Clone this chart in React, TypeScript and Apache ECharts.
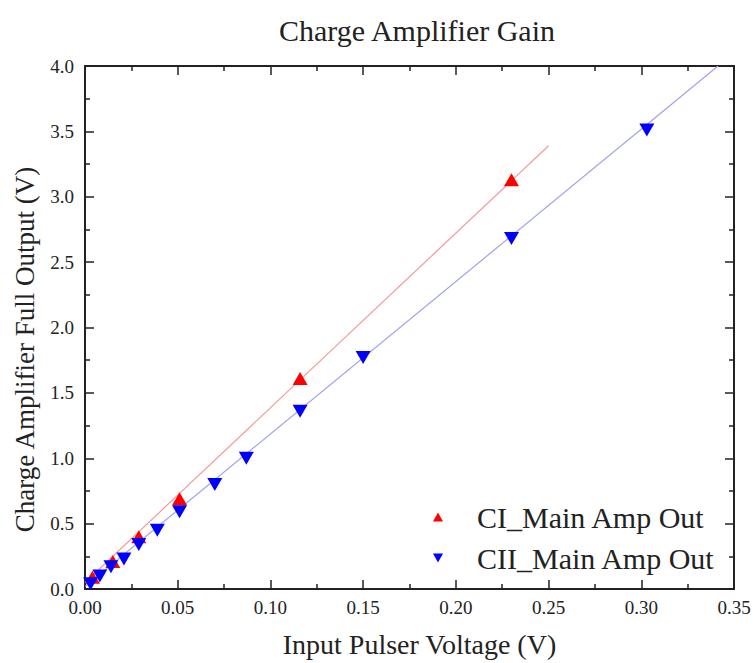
import React, { useEffect, useRef } from "react";
import * as echarts from "echarts";

const ciX = [0.004, 0.015, 0.029, 0.051, 0.116, 0.23];
const ciY = [0.09, 0.21, 0.4, 0.69, 1.61, 3.13];
const ciiX = [0.003, 0.008, 0.014, 0.021, 0.029, 0.039, 0.051, 0.07, 0.087, 0.116, 0.15, 0.23, 0.303];
const ciiY = [0.04, 0.1, 0.17, 0.23, 0.34, 0.45, 0.59, 0.8, 1.0, 1.36, 1.77, 2.68, 3.51];
const ciFitX = [0, 0.25];
const ciFitY = [0.05, 3.39];
const ciiFitX = [0, 0.3414];
const ciiFitY = [0.02, 4.0];
const seriesNames = ["CI_Main Amp Out", "CII_Main Amp Out"];
const titleText = "Charge Amplifier Gain";
const xName = "Input Pulser Voltage (V)";
const yName = "Charge Amplifier Full Output (V)";

const FONT = "'Liberation Serif', 'Times New Roman', serif";

const zip = (xs: number[], ys: number[]) => xs.map((x, i) => [x, ys[i]]);

export default function App() {
  const ref = useRef<HTMLDivElement>(null);
  useEffect(() => {
    if (!ref.current) return;
    const chart = echarts.init(ref.current, undefined, { renderer: "svg" });
    const axisLine = { show: true, onZero: false, lineStyle: { color: "#222", width: 2 } };
    const axisTick = { show: true, inside: true, length: 9, lineStyle: { color: "#222", width: 1.5 } };
    const minorTick = { show: true, splitNumber: 2, length: 5, lineStyle: { color: "#222", width: 1.5 } };
    const xBase = { type: "value", min: 0, max: 0.35, interval: 0.05, splitLine: { show: false }, axisLine, axisTick, minorTick };
    const yBase = { type: "value", min: 0, max: 4, interval: 0.5, splitLine: { show: false }, axisLine, axisTick, minorTick };
    chart.setOption({
      animation: false,
      backgroundColor: "#fff",
      title: {
        text: titleText,
        left: 412,
        textAlign: "center",
        top: 10,
        textStyle: { fontFamily: FONT, fontSize: 30, fontWeight: "normal", color: "#222" },
      },
      grid: { left: 85, right: 19, top: 66, bottom: 74, outerBoundsMode: "none" },
      legend: {
        orient: "vertical",
        left: 428,
        top: 497,
        itemWidth: 10,
        itemHeight: 9,
        itemGap: 11,
        data: [
          { name: seriesNames[0], icon: "path://M5,0L10,9L0,9Z" },
          { name: seriesNames[1], icon: "path://M0,0L10,0L5,9Z" },
        ],
        textStyle: { fontFamily: FONT, fontSize: 30, color: "#222", padding: [0, 0, 0, 29] },
      },
      xAxis: [
        {
          ...xBase,
          position: "bottom",
          name: xName,
          nameLocation: "middle",
          nameGap: 41,
          nameTextStyle: { fontFamily: FONT, fontSize: 28, color: "#222", padding: [0, 0, 0, 20] },
          axisLabel: {
            fontFamily: FONT,
            fontSize: 19,
            color: "#222",
            margin: 9,
            formatter: (v: number) => v.toFixed(2),
          },
        },
        { ...xBase, position: "top", axisLabel: { show: false } },
      ],
      yAxis: [
        {
          ...yBase,
          position: "left",
          name: yName,
          nameLocation: "middle",
          nameGap: 47,
          nameTextStyle: { fontFamily: FONT, fontSize: 27, color: "#222", padding: [0, 44, 0, 0] },
          axisLabel: {
            fontFamily: FONT,
            fontSize: 19,
            color: "#222",
            margin: 11,
            formatter: (v: number) => v.toFixed(1),
          },
        },
        { ...yBase, position: "right", axisLabel: { show: false } },
      ],
      series: [
        {
          name: "ciFit",
          type: "line",
          data: zip(ciFitX, ciFitY),
          showSymbol: false,
          symbol: "none",
          lineStyle: { color: "#f29a9a", width: 1.2 },
          silent: true,
          z: 1,
        },
        {
          name: "ciiFit",
          type: "line",
          data: zip(ciiFitX, ciiFitY),
          showSymbol: false,
          symbol: "none",
          lineStyle: { color: "#a0a0ee", width: 1.2 },
          silent: true,
          z: 1,
        },
        {
          name: seriesNames[0],
          type: "scatter",
          data: zip(ciX, ciY),
          symbol: "triangle",
          symbolSize: [15, 13],
          itemStyle: { color: "#ff0000", opacity: 1 },
          z: 3,
        },
        {
          name: seriesNames[1],
          type: "scatter",
          data: zip(ciiX, ciiY),
          symbol: "triangle",
          symbolRotate: 180,
          symbolSize: [15, 13],
          itemStyle: { color: "#0000ff", opacity: 1 },
          z: 4,
        },
      ],
    });
    return () => chart.dispose();
  }, []);
  return <div ref={ref} style={{ width: 753, height: 663, position: "absolute", left: 0, top: 0 }} />;
}
